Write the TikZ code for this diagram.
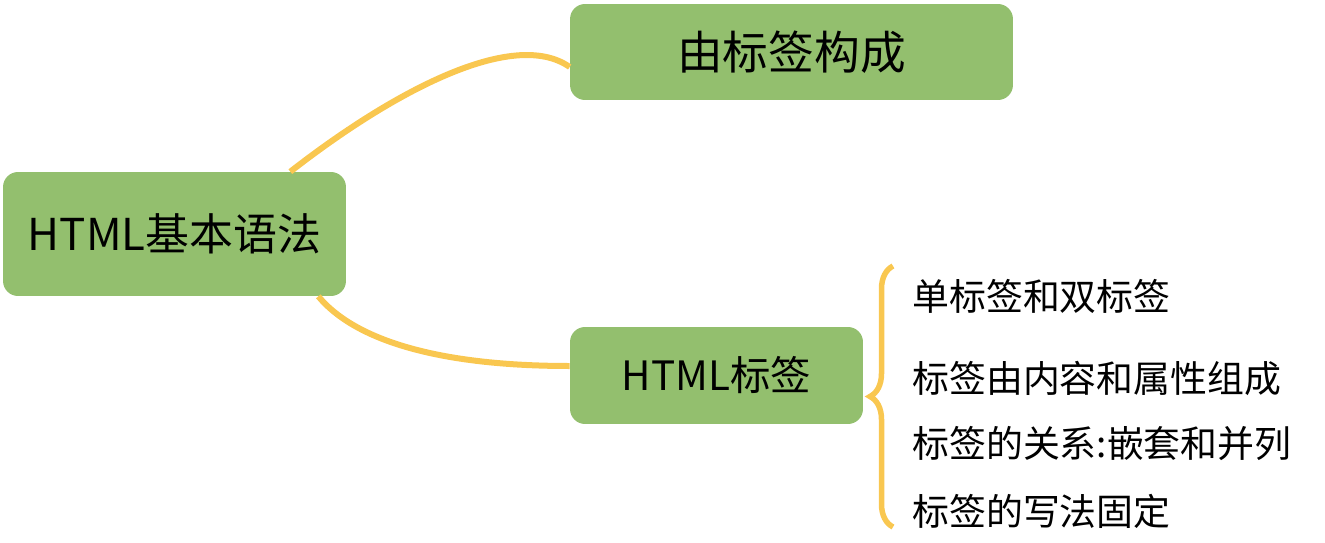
\documentclass[tikz,border=0pt]{standalone}
\usepackage{fontspec}
\newfontfamily\cjk{Noto Sans CJK SC}
\usetikzlibrary{decorations.pathreplacing}
\definecolor{leafgreen}{RGB}{147,191,110}
\definecolor{linkyellow}{RGB}{249,199,80}

\begin{document}
\begin{tikzpicture}[x=0.02cm,y=0.02cm,
    topic/.style={rounded corners=0.3cm,fill=leafgreen,inner sep=0pt,font=\cjk},
    link/.style={draw=linkyellow,line width=0.12cm},
    item/.style={anchor=west,inner sep=0pt,font=\cjk\fontsize{21}{25}\selectfont}]
    \useasboundingbox (0,0) rectangle (1325,542);
    \node[topic,minimum width=6.86cm,minimum height=2.48cm,font=\cjk\fontsize{25}{30}\selectfont] (root) at (174.5,308) {HTML基本语法};
    \node[topic,minimum width=8.86cm,minimum height=1.92cm,font=\cjk\fontsize{26}{31}\selectfont] (made) at (791.5,490) {由标签构成};
    \node[topic,minimum width=5.86cm,minimum height=1.94cm,font=\cjk\fontsize{23}{28}\selectfont] (tags) at (716.5,166.5) {HTML标签};
    \draw[link] ([xshift=-1.12cm]root.north east) .. controls +(100,78) and +(-57,40) .. ([yshift=-0.3cm]made.west);
    \draw[link] ([xshift=-0.56cm]root.south east) .. controls +(40,-48) and +(-120,0) .. ([yshift=0.19cm]tags.west);
    \draw[link,line width=0.11cm,decorate,decoration={brace,amplitude=0.46cm}] (893,15) -- (893,276);
    \node[item] (single) at (912,246) {单标签和双标签};
    \node[item] (parts) at (912,164) {标签由内容和属性组成};
    \node[item] (nest) at (912,98) {标签的关系:嵌套和并列};
    \node[item] (fixed) at (912,31) {标签的写法固定};
\end{tikzpicture}
\end{document}
